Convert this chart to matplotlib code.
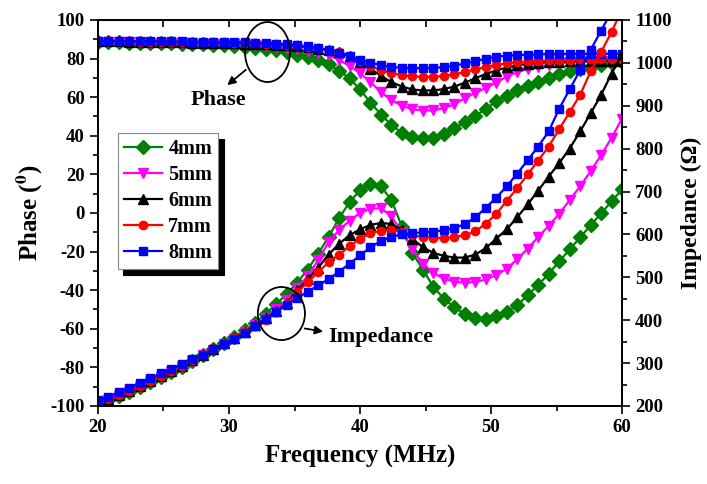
import numpy as np
import matplotlib
matplotlib.use("Agg")
import matplotlib.pyplot as plt
from matplotlib.patches import Ellipse
from matplotlib.ticker import MultipleLocator

plt.rcParams['font.family'] = ['Liberation Serif', 'DejaVu Serif']
plt.rcParams['font.weight'] = 'bold'
plt.rcParams['mathtext.fontset'] = 'stix'
plt.rcParams['axes.unicode_minus'] = False

# ---------------- data ----------------
freq = np.round(np.arange(20, 60.01, 0.8), 1)
labels = ['4mm', '5mm', '6mm', '7mm', '8mm']
colors = ['#008000', '#ff00ff', 'black', '#ff0000', '#0000ff']
markers = ['D', 'v', '^', 'o', 's']

phase_4 = [88.5, 88.4, 88.4, 88.3, 88.2, 88.1, 88.0, 87.9, 87.8, 87.6,
           87.4, 87.1, 86.8, 86.5, 86.1, 85.6, 85.1, 84.4, 83.3, 82.0,
           80.8, 79.3, 77.0, 73.8, 69.8, 64.0, 57.2, 51.0, 45.5, 41.5,
           39.5, 38.6, 39.0, 41.0, 43.8, 47.0, 50.2, 54.0, 57.8, 60.8,
           63.5, 66.0, 68.0, 70.0, 72.0, 73.5, 74.8, 75.9, 76.8, 77.6, 78.0]
phase_5 = [88.6, 88.5, 88.5, 88.4, 88.4, 88.3, 88.2, 88.1, 88.0, 87.9,
           87.8, 87.7, 87.6, 87.4, 87.2, 86.9, 86.6, 86.2, 85.6, 84.8,
           84.0, 83.0, 81.8, 79.3, 76.2, 72.5, 67.8, 62.5, 58.6, 55.5,
           53.8, 53.0, 53.2, 54.3, 56.3, 59.5, 62.2, 64.8, 67.6, 70.6,
           73.0, 74.6, 75.8, 76.8, 77.6, 78.0, 78.2, 78.4, 78.6, 78.8, 79.0]
phase_6 = [89.0, 88.9, 88.9, 88.8, 88.7, 88.6, 88.5, 88.5, 88.4, 88.3,
           88.2, 88.1, 88.0, 87.9, 87.8, 87.6, 87.4, 87.1, 86.8, 86.3,
           85.8, 85.2, 84.5, 83.5, 81.4, 78.0, 74.8, 71.0, 67.8, 65.5,
           64.0, 63.5, 63.5, 64.2, 65.5, 67.5, 69.8, 72.0, 73.8, 75.4,
           76.5, 77.3, 77.8, 78.1, 78.3, 78.5, 78.6, 78.8, 78.9, 79.0, 79.0]
phase_7 = [89.0, 89.0, 88.9, 88.9, 88.8, 88.8, 88.7, 88.7, 88.6, 88.6,
           88.5, 88.5, 88.4, 88.3, 88.2, 88.0, 87.8, 87.5, 87.2, 86.8,
           86.2, 85.4, 84.5, 83.2, 81.0, 78.5, 76.0, 74.0, 72.5, 71.4,
           70.8, 70.5, 70.6, 71.0, 71.8, 73.0, 74.5, 75.6, 76.7, 77.6,
           78.2, 78.6, 78.9, 79.1, 79.3, 79.5, 79.6, 79.7, 79.8, 79.9, 80.0]
phase_8 = [89.2, 89.2, 89.1, 89.1, 89.0, 89.0, 89.0, 88.9, 88.9, 88.8,
           88.8, 88.7, 88.7, 88.6, 88.4, 88.2, 88.0, 87.7, 87.3, 86.8,
           86.3, 85.5, 84.5, 83.0, 81.1, 79.5, 77.9, 76.6, 75.7, 75.2,
           75.0, 75.0, 75.1, 75.6, 76.3, 77.5, 78.7, 79.9, 81.0, 81.5,
           81.8, 82.0, 82.2, 82.3, 82.3, 82.4, 82.4, 82.5, 82.5, 82.5, 82.5]

imp_4 = [205, 214, 223, 233, 244, 256, 268, 280, 292, 305,
         318, 332, 346, 360, 376, 394, 415, 437, 461, 487,
         518, 555, 594, 638, 675, 703, 718, 712, 680, 618,
         557, 518, 478, 450, 430, 415, 406, 403, 410, 420,
         435, 458, 482, 508, 537, 565, 593, 621, 649, 677, 705]
imp_5 = [206, 214, 223, 233, 244, 256, 268, 280, 292, 305,
         318, 331, 344, 357, 372, 388, 406, 425, 446, 475,
         503, 540, 582, 610, 632, 650, 660, 661, 642, 606,
         565, 532, 510, 497, 490, 487, 489, 495, 505, 520,
         542, 567, 594, 620, 648, 680, 712, 747, 785, 825, 870]
imp_6 = [208, 216, 225, 235, 246, 258, 270, 282, 294, 307,
         320, 333, 346, 359, 373, 388, 404, 421, 440, 470,
         495, 522, 553, 578, 598, 612, 622, 627, 624, 611,
         590, 570, 557, 550, 546, 546, 553, 568, 590, 612,
         640, 670, 702, 735, 766, 800, 840, 882, 925, 975, 1020]
imp_7 = [209, 217, 226, 236, 247, 258, 270, 282, 294, 307,
         320, 333, 346, 359, 372, 386, 401, 418, 437, 465,
         488, 512, 535, 553, 572, 590, 603, 609, 610, 605,
         598, 594, 592, 592, 594, 598, 607, 625, 648, 678,
         708, 740, 772, 805, 845, 885, 925, 980, 1025, 1072, 1125]
imp_8 = [213, 222, 232, 243, 254, 265, 276, 287, 298, 309,
         320, 332, 344, 356, 370, 386, 403, 420, 436, 452,
         466, 481, 496, 513, 532, 551, 570, 585, 594, 600,
         603, 605, 606, 610, 615, 624, 640, 662, 686, 712,
         742, 773, 805, 840, 893, 938, 983, 1030, 1075, 1120, 1165]

phases = [phase_4, phase_5, phase_6, phase_7, phase_8]
imps = [imp_4, imp_5, imp_6, imp_7, imp_8]

# ---------------- figure ----------------
fig = plt.figure(figsize=(7.07, 4.84), dpi=100)
ax = fig.add_axes([0.1386, 0.1612, 0.7412, 0.7975])
ax2 = ax.twinx()

handles = []
for ph, z, lab, c, m in zip(phases, imps, labels, colors, markers):
    ms = 6 if m in ('s', 'o') else 7
    h, = ax.plot(freq, ph, color=c, marker=m, ms=ms, lw=1.6, mec=c, label=lab)
    ax2.plot(freq, z, color=c, marker=m, ms=ms, lw=1.6, mec=c)
    handles.append(h)

ax.set_xlim(20, 60)
ax.set_ylim(-100, 100)
ax2.set_ylim(200, 1100)

ax.xaxis.set_major_locator(MultipleLocator(10))
ax.xaxis.set_minor_locator(MultipleLocator(5))
ax.yaxis.set_major_locator(MultipleLocator(20))
ax.yaxis.set_minor_locator(MultipleLocator(10))
ax2.yaxis.set_major_locator(MultipleLocator(100))
ax2.yaxis.set_minor_locator(MultipleLocator(50))

for a in (ax, ax2):
    a.tick_params(which='major', direction='out', length=6, width=1.2, labelsize=13.5)
    a.tick_params(which='minor', direction='out', length=3.5, width=1.2)
    for sp in a.spines.values():
        sp.set_linewidth(1.3)

# top ticks pointing inward, no labels
top = ax.secondary_xaxis('top')
top.xaxis.set_major_locator(MultipleLocator(5))
top.tick_params(direction='in', length=5, width=1.2, labeltop=False)

ax.set_xlabel('Frequency (MHz)', fontsize=18, fontweight='bold', labelpad=6)
ax.set_ylabel(r'Phase ($^{\mathbf{0}}$)', fontsize=18, fontweight='bold', labelpad=4)
ax2.set_ylabel('Impedance (Ω)', fontsize=17, fontweight='bold', labelpad=6)

# ellipses and notes
e1 = Ellipse((32.94, 83.4), 3.44, 31.1, fill=False, ec='black', lw=1.3,
             transform=ax.transData, zorder=10)
ax2.add_patch(e1)
e2 = Ellipse((34.0, -52.1), 3.6, 27.5, fill=False, ec='black', lw=1.3,
             transform=ax.transData, zorder=10)
ax2.add_patch(e2)
ax2.annotate('', xy=(29.7, 65.3), xytext=(31.45, 75.1),
             xycoords=ax.transData, textcoords=ax.transData,
             arrowprops=dict(arrowstyle='-|>', color='black', lw=1.3, mutation_scale=12))
ax2.text(29.2, 58.5, 'Phase', transform=ax.transData, ha='center', va='center',
         fontsize=16, fontweight='bold')
ax2.annotate('', xy=(37.4, -61.7), xytext=(35.57, -59.6),
             xycoords=ax.transData, textcoords=ax.transData,
             arrowprops=dict(arrowstyle='-|>', color='black', lw=1.3, mutation_scale=12))
ax2.text(37.6, -64.2, 'Impedance', transform=ax.transData, ha='left', va='center',
         fontsize=16, fontweight='bold')

leg = ax2.legend(handles=handles, loc='upper left', bbox_to_anchor=(0.038, 0.707),
                 fontsize=14.5, frameon=True, fancybox=False, edgecolor='#888888',
                 handlelength=1.9, labelspacing=0.3, borderpad=0.3, handletextpad=0.3,
                 borderaxespad=0.0,
                 shadow={'ox': 4, 'oy': -4, 'color': 'black', 'alpha': 1})
leg.get_frame().set_linewidth(0.8)

fig.savefig('out.png', dpi=100)
